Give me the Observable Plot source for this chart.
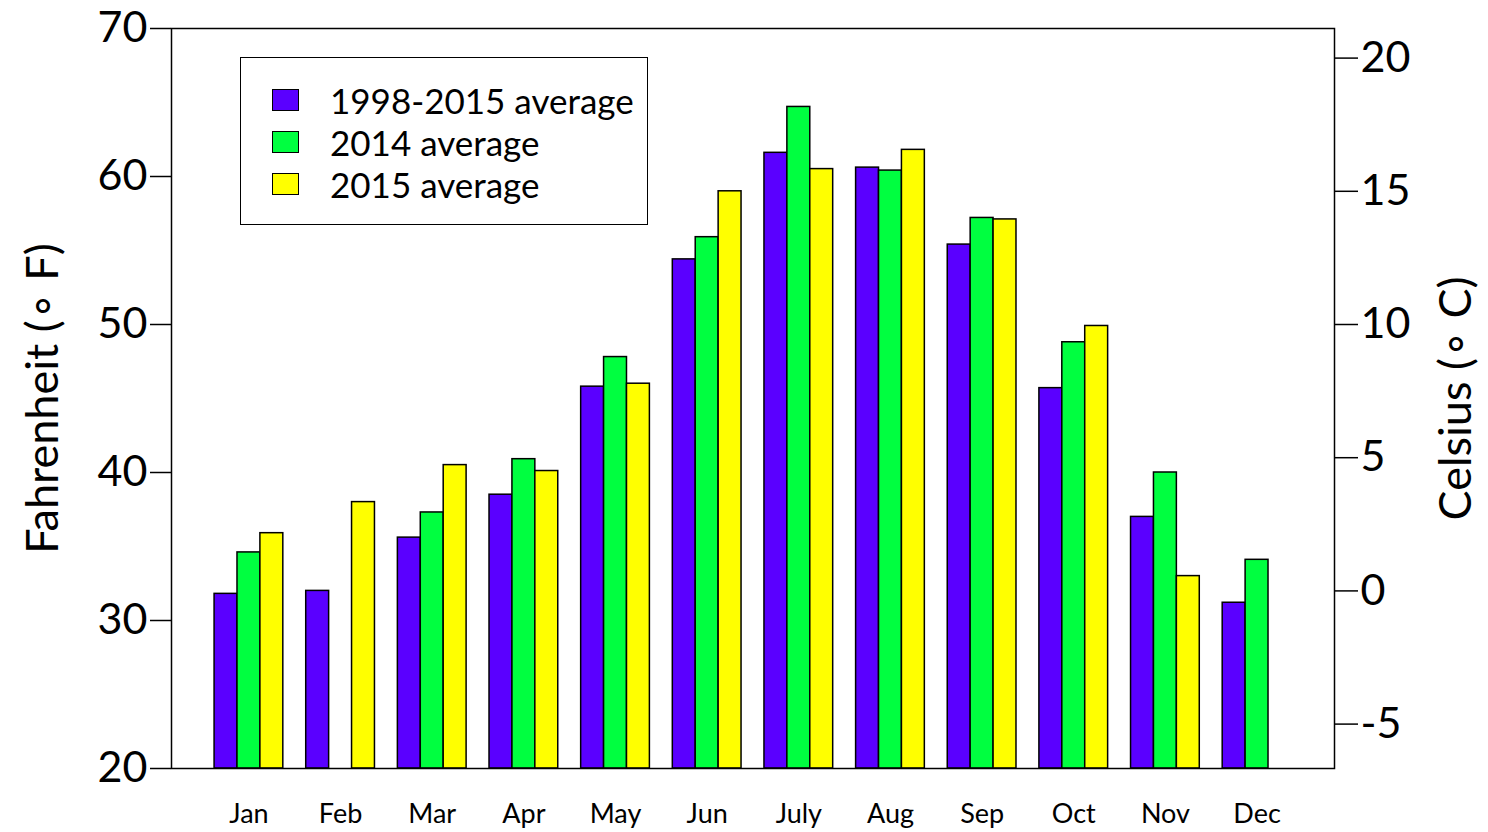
<!DOCTYPE html>
<html>
<head>
<meta charset="utf-8">
<script src="https://cdn.jsdelivr.net/npm/d3@7"></script>
<script src="https://cdn.jsdelivr.net/npm/@observablehq/plot@0.6"></script>
<style>
  html, body { margin: 0; padding: 0; background: #fff; }
  #wrap { position: relative; width: 1488px; height: 832px; font-family: Lato, sans-serif; }
  #legend { position: absolute; left: 240px; top: 57px; width: 408px; height: 168px;
            border: 1.5px solid #000; box-sizing: border-box; background: #fff; }
  .row { position: absolute; left: 0; height: 42px; display: flex; align-items: center; }
  .sw { position: absolute; left: 31px; width: 27px; height: 22px; border: 1.5px solid #000; box-sizing: border-box; }
  .lt { position: absolute; left: 89px; font-size: 35px; white-space: nowrap; color: #000; line-height: 1; }
</style>
</head>
<body>
<div id="wrap">
  <div id="chart"></div>
  <div id="legend"></div>
</div>
<script>
// ---- data ----
const months = ["Jan","Feb","Mar","Apr","May","Jun","July","Aug","Sep","Oct","Nov","Dec"];
const seriesNames = ["1998-2015 average", "2014 average", "2015 average"];
const avg1998_2015 = [31.8, 32.0, 35.6, 38.5, 45.8, 54.4, 61.6, 60.6, 55.4, 45.7, 37.0, 31.2];
const avg2014      = [34.6, null, 37.3, 40.9, 47.8, 55.9, 64.7, 60.4, 57.2, 48.8, 40.0, 34.1];
const avg2015      = [35.9, 38.0, 40.5, 40.1, 46.0, 59.0, 60.5, 61.8, 57.1, 49.9, 33.0, null];
const seriesColors = ["#5a00ff", "#00ff40", "#ffff00"];
const fahrenheitTicks = [20, 30, 40, 50, 60, 70];
const celsiusTicks = [-5, 0, 5, 10, 15, 20];

// ---- build table ----
const seriesValues = [avg1998_2015, avg2014, avg2015];
const table = [];
months.forEach((m, i) => {
  seriesValues.forEach((vals, s) => {
    if (vals[i] != null) table.push({month: m, mi: i, si: s, series: seriesNames[s], value: vals[i]});
  });
});
const yBase = fahrenheitTicks[0];
const c2f = c => c * 9 / 5 + 32;
const f2c = f => Math.round((f - 32) * 5 / 9);
const monthCenters = months.map((m, i) => i * 4 + 2.5);

const chart = Plot.plot({
  width: 1488,
  height: 832,
  marginLeft: 171,
  marginRight: 154,
  marginTop: 28,
  marginBottom: 64,
  style: {fontFamily: "Lato, sans-serif", color: "#000", background: "transparent", overflow: "visible"},
  x: {type: "linear", domain: [-0.88, 49.88]},
  y: {domain: [20, 70]},
  color: {domain: seriesNames, range: seriesColors},
  marks: [
    Plot.rectY(table, {
      x1: d => d.mi * 4 + 1 + d.si,
      x2: d => d.mi * 4 + 2 + d.si,
      y1: () => yBase,
      y2: "value",
      fill: "series",
      stroke: "#000",
      strokeWidth: 1.5
    }),
    Plot.frame({stroke: "#000", strokeWidth: 1.5}),
    Plot.axisY(fahrenheitTicks, {anchor: "left", tickSize: 21, tickPadding: 3, fontSize: 43, strokeWidth: 1.5, label: null}),
    Plot.axisY(celsiusTicks.map(c2f), {anchor: "right", tickSize: 23, tickPadding: 3, fontSize: 43, strokeWidth: 1.5,
      tickFormat: f => String(f2c(f)), label: null}),
    Plot.axisX(monthCenters, {anchor: "bottom", tickSize: 0, tickPadding: 35, fontSize: 27,
      tickFormat: (d, i) => months[i], label: null}),
    Plot.text(["Fahrenheit (\u2218 F)"], {frameAnchor: "left", textAnchor: "middle", dx: -128, rotate: -90, fontSize: 45, fill: "#000"}),
    Plot.text(["Celsius (\u2218 C)"], {frameAnchor: "right", textAnchor: "middle", dx: 122, rotate: -90, fontSize: 45, fill: "#000"})
  ]
});
document.getElementById("chart").appendChild(chart);

// ---- legend ----
const legend = document.getElementById("legend");
seriesNames.forEach((name, i) => {
  const row = document.createElement("div");
  row.className = "row";
  row.style.top = (21 + i * 42) + "px";
  row.style.width = "100%";
  const sw = document.createElement("div");
  sw.className = "sw";
  sw.style.background = seriesColors[i];
  const lt = document.createElement("div");
  lt.className = "lt";
  lt.textContent = name;
  row.appendChild(sw);
  row.appendChild(lt);
  legend.appendChild(row);
});
</script>
</body>
</html>
